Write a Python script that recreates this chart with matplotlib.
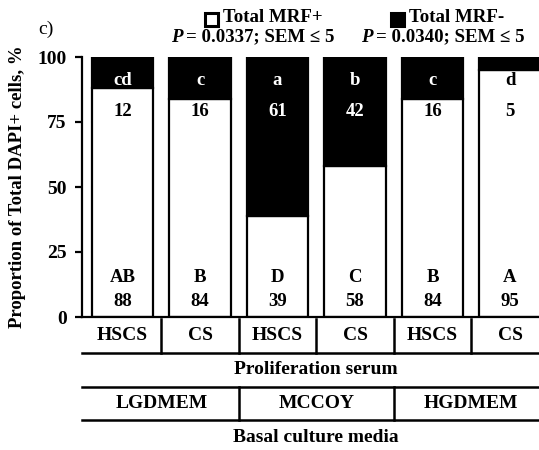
import matplotlib
matplotlib.use("Agg")
import matplotlib.pyplot as plt
from matplotlib.patches import Rectangle
from matplotlib.lines import Line2D
from matplotlib.transforms import blended_transform_factory

plt.rcParams['font.family'] = ['Liberation Serif', 'DejaVu Serif']
plt.rcParams['font.weight'] = 'bold'

# Data
serum = ["HSCS", "CS", "HSCS", "CS", "HSCS", "CS"]
media = ["LGDMEM", "MCCOY", "HGDMEM"]
mrf_pos = [88, 84, 39, 58, 84, 95]
mrf_neg = [12, 16, 61, 42, 16, 5]
letters_neg = ["cd", "c", "a", "b", "c", "d"]
letters_pos = ["AB", "B", "D", "C", "B", "A"]
yticks = [0, 25, 50, 75, 100]

W, H = 539, 450
fig = plt.figure(figsize=(W / 100, H / 100), dpi=100)
ax = fig.add_axes([82 / W, 1 - 317 / H, 1 - 82 / W, (317 - 57) / H])

x = list(range(len(serum)))
bw = 0.79
ax.bar(x, mrf_pos, width=bw, color="white", edgecolor="black", linewidth=1.6, zorder=2)
ax.bar(x, mrf_neg, width=bw, bottom=mrf_pos, color="black", edgecolor="black", linewidth=1.6, zorder=2)

ax.set_xlim(-0.523, 5.374)
ax.set_ylim(0, 100)
ax.set_yticks(yticks)
ax.set_yticklabels([str(v) for v in yticks], fontsize=14, fontweight="bold")
ax.set_xticks([])
ax.tick_params(axis="y", direction="out", length=5, width=1.6, pad=6)
for s in ["top", "right"]:
    ax.spines[s].set_visible(False)
ax.spines["left"].set_linewidth(1.6)
ax.spines["bottom"].set_linewidth(1.6)
ax.spines["bottom"].set_zorder(3)

# Value and significance labels
fs_lab = 13.5
for i in x:
    for yv, txt in [(90.8, letters_neg[i]), (79.2, str(mrf_neg[i]))]:
        col = "black" if yv < mrf_pos[i] else "white"
        ax.text(i, yv, txt, ha="center", va="center", fontsize=fs_lab, fontweight="bold", color=col, zorder=4)
    ax.text(i, 15, letters_pos[i], ha="center", va="center", fontsize=fs_lab, fontweight="bold", zorder=4)
    ax.text(i, 5.8, str(mrf_pos[i]), ha="center", va="center", fontsize=fs_lab, fontweight="bold", zorder=4)


def fy(py):
    return 1 - py / H


fig.text(18 / W, fy(187), "Proportion of Total DAPI+ cells, %", rotation=90,
         ha="center", va="center", fontsize=13.5, fontweight="bold")

# Category table below the axis
tr = blended_transform_factory(ax.transData, fig.transFigure)
xl, xr = ax.get_xlim()
lw = 1.8


def hline(py):
    fig.add_artist(Line2D([xl, xr], [fy(py), fy(py)], transform=tr, color="black", lw=lw, clip_on=False))


def vline(xd, py0, py1):
    fig.add_artist(Line2D([xd, xd], [fy(py0), fy(py1)], transform=tr, color="black", lw=lw, clip_on=False))


fs_tab = 14
for i, s in enumerate(serum):
    fig.text(i, fy(336), s, transform=tr, ha="center", va="center", fontsize=fs_tab, fontweight="bold")
for xd in [0.5, 1.5, 2.5, 3.5, 4.5]:
    vline(xd, 319, 353)
hline(353)
fig.text(2.5, fy(370), "Proliferation serum", transform=tr, ha="center", va="center", fontsize=fs_tab, fontweight="bold")
hline(387)
for j, m in enumerate(media):
    fig.text(2 * j + 0.5, fy(404), m, transform=tr, ha="center", va="center", fontsize=fs_tab, fontweight="bold")
for xd in [1.5, 3.5]:
    vline(xd, 387, 420)
hline(420)
fig.text(2.5, fy(438), "Basal culture media", transform=tr, ha="center", va="center", fontsize=fs_tab, fontweight="bold")

# Panel tag and legend
fig.text(38 / W, fy(29), "c)", ha="left", va="center", fontsize=14, fontweight="normal")

fs_leg = 13.6


def legend_entry(sq_x, txt_x, label, fill, p_x, p_text):
    fig.add_artist(Rectangle((sq_x / W, fy(26)), 13 / W, 12.5 / H, transform=fig.transFigure,
                             facecolor=fill, edgecolor="black", linewidth=2.2))
    fig.text(txt_x / W, fy(18), label, ha="left", va="center", fontsize=fs_leg, fontweight="bold")
    fig.text(p_x / W, fy(37), "P", ha="right", va="center", fontsize=fs_leg, fontweight="bold", style="italic")
    fig.text((p_x + 3) / W, fy(37), p_text, ha="left", va="center", fontsize=fs_leg, fontweight="bold")


legend_entry(205, 223, "Total MRF+", "white", 183, "= 0.0337; SEM \u2264 5")
legend_entry(391, 409, "Total MRF-", "black", 373, "= 0.0340; SEM \u2264 5")

fig.savefig("out.png", dpi=100)
